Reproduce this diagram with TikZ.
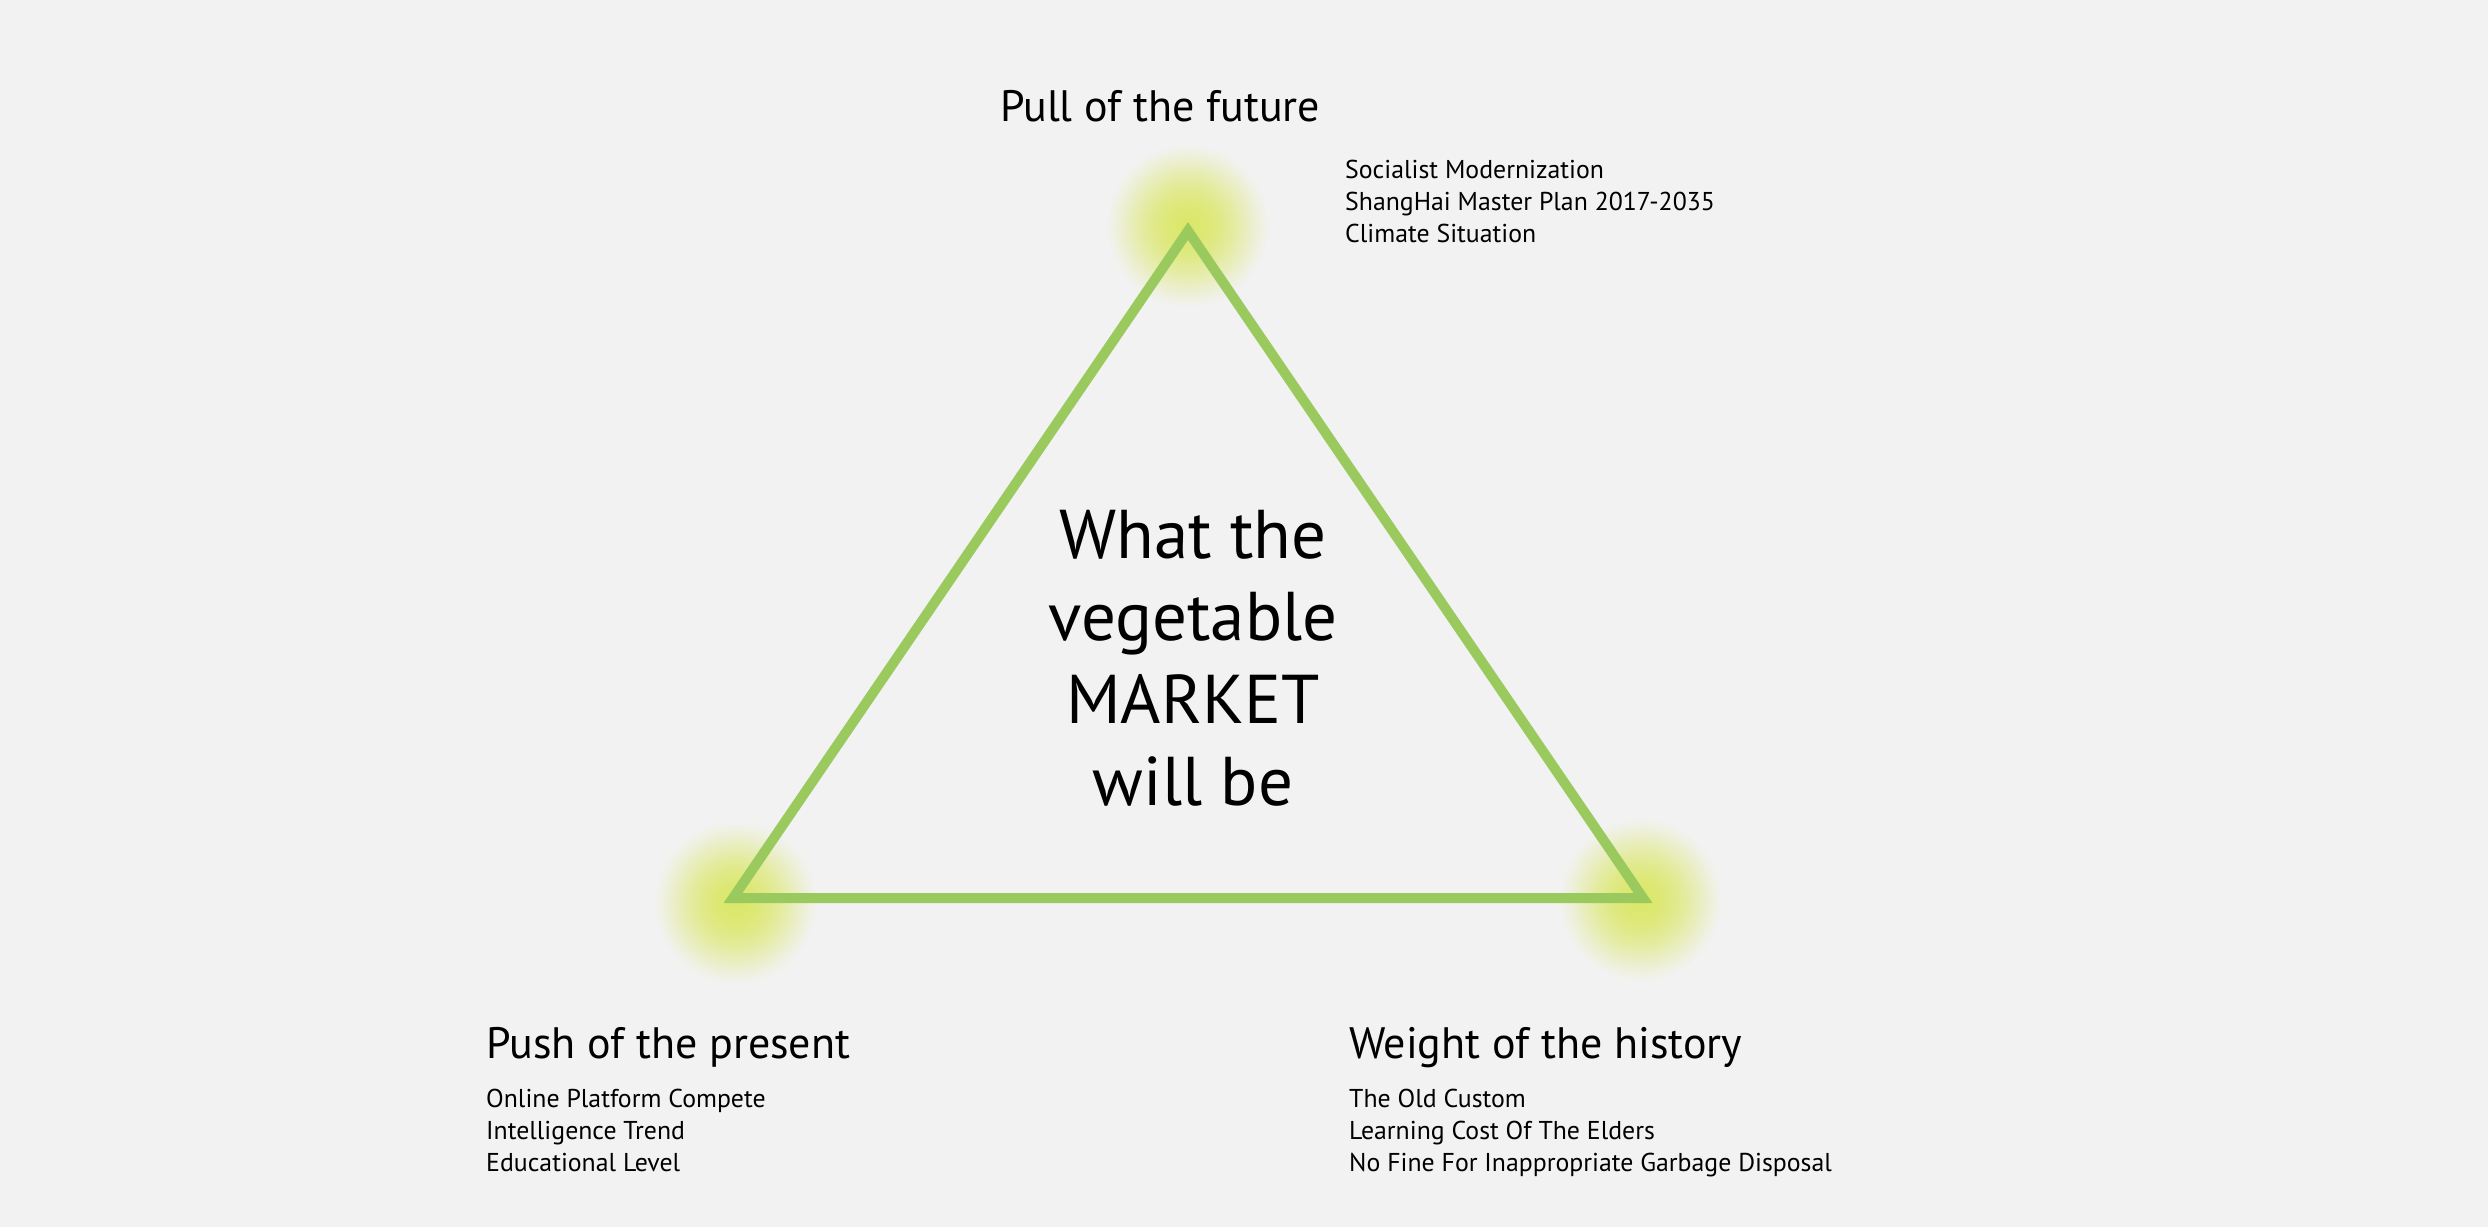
\documentclass[tikz,border=0pt]{standalone}
\usepackage{fontspec}
\setmainfont{PT Sans}
\definecolor{bgc}{RGB}{242,242,242}
\definecolor{trig}{RGB}{154,201,94}
\definecolor{glowc}{RGB}{216,230,92}
\begin{document}
\begin{tikzpicture}[x=1pt,y=-1pt,
  tri/.style={draw=trig,line width=10pt,line join=miter},
  head/.style={anchor=base west,inner sep=0pt,font=\fontsize{44}{50}\selectfont},
  item/.style={anchor=base west,inner sep=0pt,font=\fontsize{25.8}{32}\selectfont},
  bigtext/.style={anchor=base,inner sep=0pt,font=\fontsize{69}{82}\selectfont}]
\fill[bgc] (0,0) rectangle (2488,1227);
\useasboundingbox (0,0) rectangle (2488,1227);
\coordinate (top) at (1188,231);
\coordinate (bl) at (733,898);
\coordinate (br) at (1643,898);
\coordinate (gtop) at (1188,226);
\coordinate (gbl) at (736,903);
\coordinate (gbr) at (1641,900);
\foreach \g in {gtop,gbl,gbr}{
  \foreach \i in {40,...,1}{
    \pgfmathsetmacro{\rr}{2.05*\i}
    \pgfmathsetmacro{\ff}{90*pow(1-(\i/41)^2,1.4)}
    \fill[glowc!\ff!bgc] (\g) circle (\rr);
  }
}
\draw[tri] (top) -- (bl) -- (br) -- cycle;
\node[head] (pull) at (1000,121) {Pull of the future};
\node[item] (pull1) at (1345,178) {Socialist Modernization};
\node[item] (pull2) at (1345,210) {ShangHai Master Plan 2017-2035};
\node[item] (pull3) at (1345,242) {Climate Situation};
\node[head] (push) at (486,1058) {Push of the present};
\node[item] (push1) at (486,1107) {Online Platform Compete};
\node[item] (push2) at (486,1139) {Intelligence Trend};
\node[item] (push3) at (486,1171) {Educational Level};
\node[head] (weight) at (1349,1058) {Weight of the history};
\node[item] (weight1) at (1349,1107) {The Old Custom};
\node[item] (weight2) at (1349,1139) {Learning Cost Of The Elders};
\node[item] (weight3) at (1349,1171) {No Fine For Inappropriate Garbage Disposal};
\node[bigtext] (c1) at (1193,558) {What the};
\node[bigtext] (c2) at (1193,640) {vegetable};
\node[bigtext] (c3) at (1193,723) {MARKET};
\node[bigtext] (c4) at (1193,805) {will be};
\end{tikzpicture}
\end{document}
